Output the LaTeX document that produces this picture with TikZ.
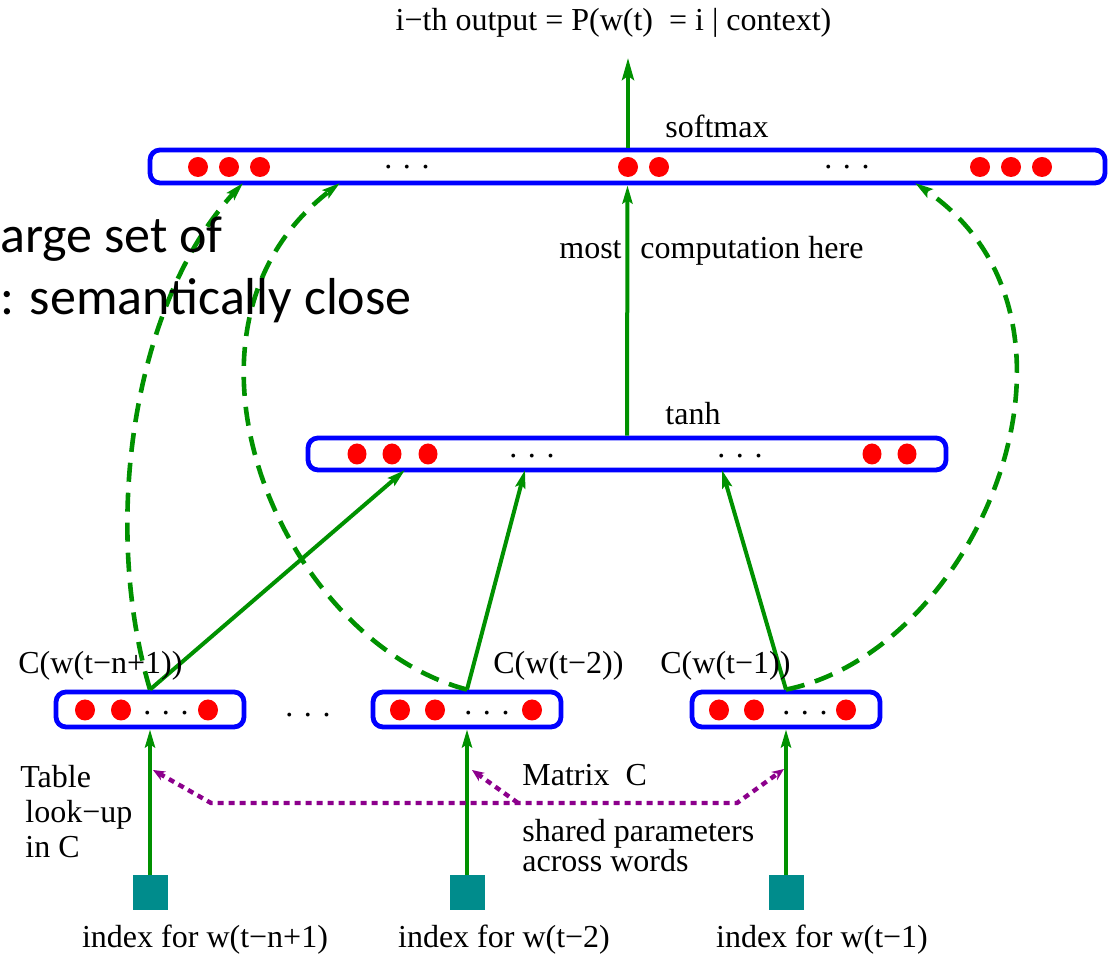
\documentclass[tikz,border=0pt]{standalone}
\usepackage{fontspec}
\setmainfont{Liberation Serif}
\newfontfamily\slidefont{Carlito}
\usetikzlibrary{arrows.meta, positioning}

\definecolor{lyrblue}{RGB}{0,0,255}
\definecolor{unitred}{RGB}{255,0,0}
\definecolor{linkgreen}{RGB}{0,145,0}
\definecolor{sharepurple}{RGB}{140,0,140}
\definecolor{idxteal}{RGB}{0,140,140}

\begin{document}
\begin{tikzpicture}[
    x=0.5pt, y=-0.5pt,
    font=\fontsize{16}{17.5}\selectfont,
    layer/.style={rectangle, draw=lyrblue, line width=2.4pt, rounded corners=5pt, inner sep=0pt, minimum height=16.5pt},
    feat/.style={layer, minimum width=94pt, minimum height=17.5pt},
    idx/.style={rectangle, fill=idxteal, minimum size=17.5pt, inner sep=0pt},
    lbl/.style={inner sep=0pt},
    gap/.style={inner sep=0pt, anchor=base},
    link/.style={draw=linkgreen, line width=2pt, -{Stealth[length=9pt, width=5pt, inset=1.5pt]}},
    dlink/.style={link, line width=2.3pt, dash pattern=on 9.5pt off 5.5pt},
    share/.style={draw=sharepurple, line width=2.2pt, dash pattern=on 3pt off 2.5pt},
    stip/.style={-{Stealth[length=6pt, width=5pt]}},
    stips/.style={{Stealth[length=6pt, width=5pt]}-{Stealth[length=6pt, width=5pt]}},
    slide/.style={inner sep=0pt, anchor=base west, font=\slidefont\fontsize{26}{30}\selectfont}
]
    \useasboundingbox (0,0) rectangle (1110,956);

    % Layers
    \node[layer, minimum width=477.5pt] (sm) at (627.5,166.5) {};
    \node[layer, minimum width=319pt, minimum height=16pt] (th) at (627,454) {};
    \node[feat] (c1) at (150,709.5) {};
    \node[feat] (c2) at (467,709.5) {};
    \node[feat] (c3) at (786,709.5) {};

    % Units
    \foreach \x in {198,229,260,628,659,980,1011,1042}
        \fill[unitred] (\x,167) circle[radius=10];
    \foreach \x in {357,392,428,872,907}
        \fill[unitred] (\x,454) circle[x radius=9.5, y radius=10.5];
    \foreach \x in {85,121,208,400,435,532,719,754,846}
        \fill[unitred] (\x,710) circle[x radius=10, y radius=10.5];

    \node[gap] (smd1) at (407,169) {. . .};
    \node[gap] (smd2) at (847,169) {. . .};
    \node[gap] (thd1) at (532,458) {. . .};
    \node[gap] (thd2) at (740,458) {. . .};
    \node[gap] (c1d) at (166,715) {. . .};
    \node[gap] (c2d) at (487,715) {. . .};
    \node[gap] (c3d) at (805,715) {. . .};
    \node[gap] (cgap) at (308,717) {. . .};

    % Index squares
    \node[idx] (ix1) at (150,893) {};
    \node[idx] (ix2) at (467,893) {};
    \node[idx] (ix3) at (786,893) {};

    % Connectors
    \coordinate (top) at (628,58);
    \coordinate (th1) at (405,470);
    \coordinate (th2) at (525,470);
    \coordinate (th3) at (722,470);
    \coordinate (sm1) at (243,183);
    \coordinate (sm2) at (340,183);
    \coordinate (sm3) at (915,183);

    \draw[link, -{Stealth[length=11pt, width=6pt, inset=2pt]}] (sm.north -| top) -- (top);
    \draw[link] (th.north) -- (sm.south);
    \draw[link] (c1.north) -- (th1);
    \draw[link] (c2.north) -- (th2);
    \draw[link] (c3.north) -- (th3);

    \draw[dlink] (c1.north) .. controls (100,520) and (135,300) .. (sm1);
    \draw[dlink] (c2.north) .. controls (280,640) and (150,330) .. (sm2);
    \draw[dlink] (c3.north) .. controls (980,650) and (1115,320) .. (sm3);

    \draw[link] (ix1.north) -- (c1.south);
    \draw[link] (ix2.north) -- (c2.south);
    \draw[link] (ix3.north) -- (c3.south);

    % Shared matrix
    \coordinate (pl) at (153,770);
    \coordinate (pk1) at (211,803);
    \coordinate (pk2) at (518,803);
    \coordinate (pk3) at (737,803);
    \coordinate (pm) at (472,770);
    \coordinate (pr) at (784,769);
    \draw[share, stips] (pl) -- (pk1) -- (pk3) -- (pr);
    \draw[share, stip] (pk2) -- (pm);

    % Labels
    \node[lbl, anchor=base] (out) at (613.5,31) {i−th output = P(w(t)\ \ = i | context)};
    \node[lbl, anchor=base west] (smlbl) at (665,138) {softmax};
    \node[lbl, anchor=base east] (most) at (622,259) {most};
    \node[lbl, anchor=base west] (comp) at (640,259) {computation here};
    \node[lbl, anchor=base west] (thlbl) at (665,425) {tanh};
    \node[lbl, anchor=base west] (c1lbl) at (18,674) {C(w(t−n+1))};
    \node[lbl, anchor=base west] (c2lbl) at (493,674) {C(w(t−2))};
    \node[lbl, anchor=base west] (c3lbl) at (660,674) {C(w(t−1))};
    \node[lbl, anchor=north west, align=left] (look) at (20,765) {Table\\\hspace{2.5pt}look−up\\\hspace{2.5pt}in C};
    \node[lbl, anchor=base west] (mat) at (522,786) {Matrix\ \ C};
    \node[lbl, anchor=north west, align=left, font=\fontsize{16}{15}\selectfont] (shr) at (522,819) {shared parameters\\across words};
    \node[lbl, anchor=base] (w1) at (205,948) {index for w(t−n+1)};
    \node[lbl, anchor=base] (w2) at (504,948) {index for w(t−2)};
    \node[lbl, anchor=base] (w3) at (822,948) {index for w(t−1)};

    % Slide text
    \node[slide] (ov1) at (0,253) {arge set of};
    \node[slide] (ov2) at (0,315) {: semantically close};
\end{tikzpicture}
\end{document}
